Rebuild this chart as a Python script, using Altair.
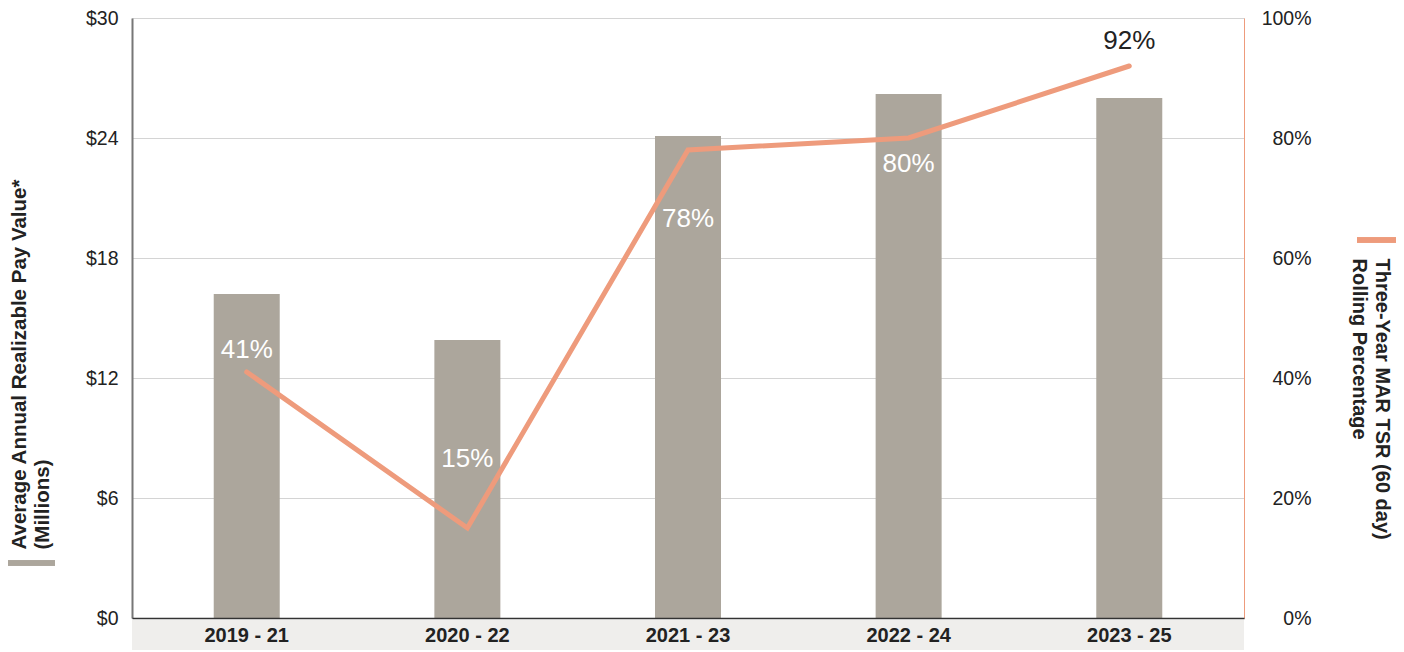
import altair as alt
import pandas as pd

# ---- data ----
periods = ["2019 - 21", "2020 - 22", "2021 - 23", "2022 - 24", "2023 - 25"]
pay_values = [16.2, 13.9, 24.1, 26.2, 26.0]          # $ millions (left axis)
tsr_pct = [41, 15, 78, 80, 92]                        # % (right axis)
pct_labels = ["41%", "15%", "78%", "80%", "92%"]
left_ticks = [0, 6, 12, 18, 24, 30]
right_ticks = [0, 20, 40, 60, 80, 100]
left_title = ["Average Annual Realizable Pay Value*", "(Millions)"]
right_title = ["Three-Year MAR TSR (60 day)", "Rolling Percentage"]

# ---- styles ----
label_dy = [-22, -69, 69, 26, -25]
label_colors = ["white", "white", "white", "white", "#222222"]
BAR = "#aca69c"
LINE = "#ee9b7c"
BAND_BG = "#efeeec"
TXT = "#222222"
FONT = "Liberation Sans"
TOP = 10
W, H = 1112, 600

df = pd.DataFrame({"period": periods, "pay": pay_values, "tsr": tsr_pct, "label": pct_labels})

x_enc = alt.X(
    "period:N", sort=periods,
    scale=alt.Scale(paddingInner=0, paddingOuter=0.02),
    axis=alt.Axis(title=None, labelAngle=0, ticks=False, grid=False,
                  domainColor="#333333", domainWidth=1.5,
                  labelFont=FONT, labelFontSize=20, labelFontWeight="bold",
                  labelColor=TXT, labelPadding=7, zindex=1),
)

base = alt.Chart(df)

band_bg = base.mark_rect(color=BAND_BG).encode(
    x=alt.value(0), x2=alt.value(W), y=alt.value(H + 2), y2=alt.value(H + 32)
)

bars = base.mark_bar(color=BAR, size=66).encode(
    x=x_enc,
    y=alt.Y("pay:Q", scale=alt.Scale(domain=[0, 30]),
            axis=alt.Axis(values=left_ticks, labelExpr="'$' + datum.value",
                          ticks=False, labelPadding=14, labelFont=FONT,
                          labelFontSize=19.5, labelColor=TXT,
                          domainColor="#777777", domainWidth=2,
                          gridColor="#d4d4d4", gridWidth=1,
                          title=left_title, titleFont=FONT, titleFontSize=20.5,
                          titleFontWeight="bold", titleColor=TXT,
                          titleAngle=270, titleAlign="left", titleBaseline="top",
                          titleX=-123, titleY=549 - 8 - TOP, titleLineHeight=23)),
)

left_swatch = base.mark_rule(color=BAR, strokeWidth=5).encode(
    x=alt.value(-124), x2=alt.value(-77), y=alt.value(563 - 8 - TOP)
)
right_swatch = base.mark_rule(color=LINE, strokeWidth=5).encode(
    x=alt.value(W + 113), x2=alt.value(W + 152), y=alt.value(240 - 8 - TOP)
)

left_layer = alt.layer(band_bg, bars, left_swatch, right_swatch)

y_right = alt.Y("tsr:Q", scale=alt.Scale(domain=[0, 100]),
                axis=alt.Axis(orient="right", values=right_ticks,
                              labelExpr="datum.value + '%'", ticks=False,
                              grid=False, labelAlign="right", labelPadding=67,
                              labelFont=FONT, labelFontSize=19.5, labelColor=TXT,
                              domainColor=LINE, domainWidth=1,
                              title=right_title, titleFont=FONT, titleFontSize=20,
                              titleFontWeight="bold", titleColor=TXT,
                              titleAngle=90, titleAlign="left", titleBaseline="top",
                              titleX=147, titleY=258 - 8 - TOP, titleLineHeight=23))

line = base.mark_line(color=LINE, strokeWidth=5, strokeCap="round").encode(
    x=x_enc, y=y_right
)

texts = []
for i, p in enumerate(periods):
    texts.append(
        base.transform_filter(alt.datum.period == p)
        .mark_text(font=FONT, fontSize=26, color=label_colors[i], dy=label_dy[i])
        .encode(x=x_enc, y=y_right, text="label:N")
    )

right_layer = alt.layer(line, *texts)

chart = (
    alt.layer(left_layer, right_layer)
    .resolve_scale(y="independent")
    .properties(width=W, height=H, autosize=alt.AutoSizeParams(type="none"),
                padding={"left": 124, "top": TOP, "right": 152, "bottom": 32})
    .configure_view(stroke=None)
    .configure(background="white")
)

chart.save("out.html", embed_options={"renderer": "svg", "actions": False})
